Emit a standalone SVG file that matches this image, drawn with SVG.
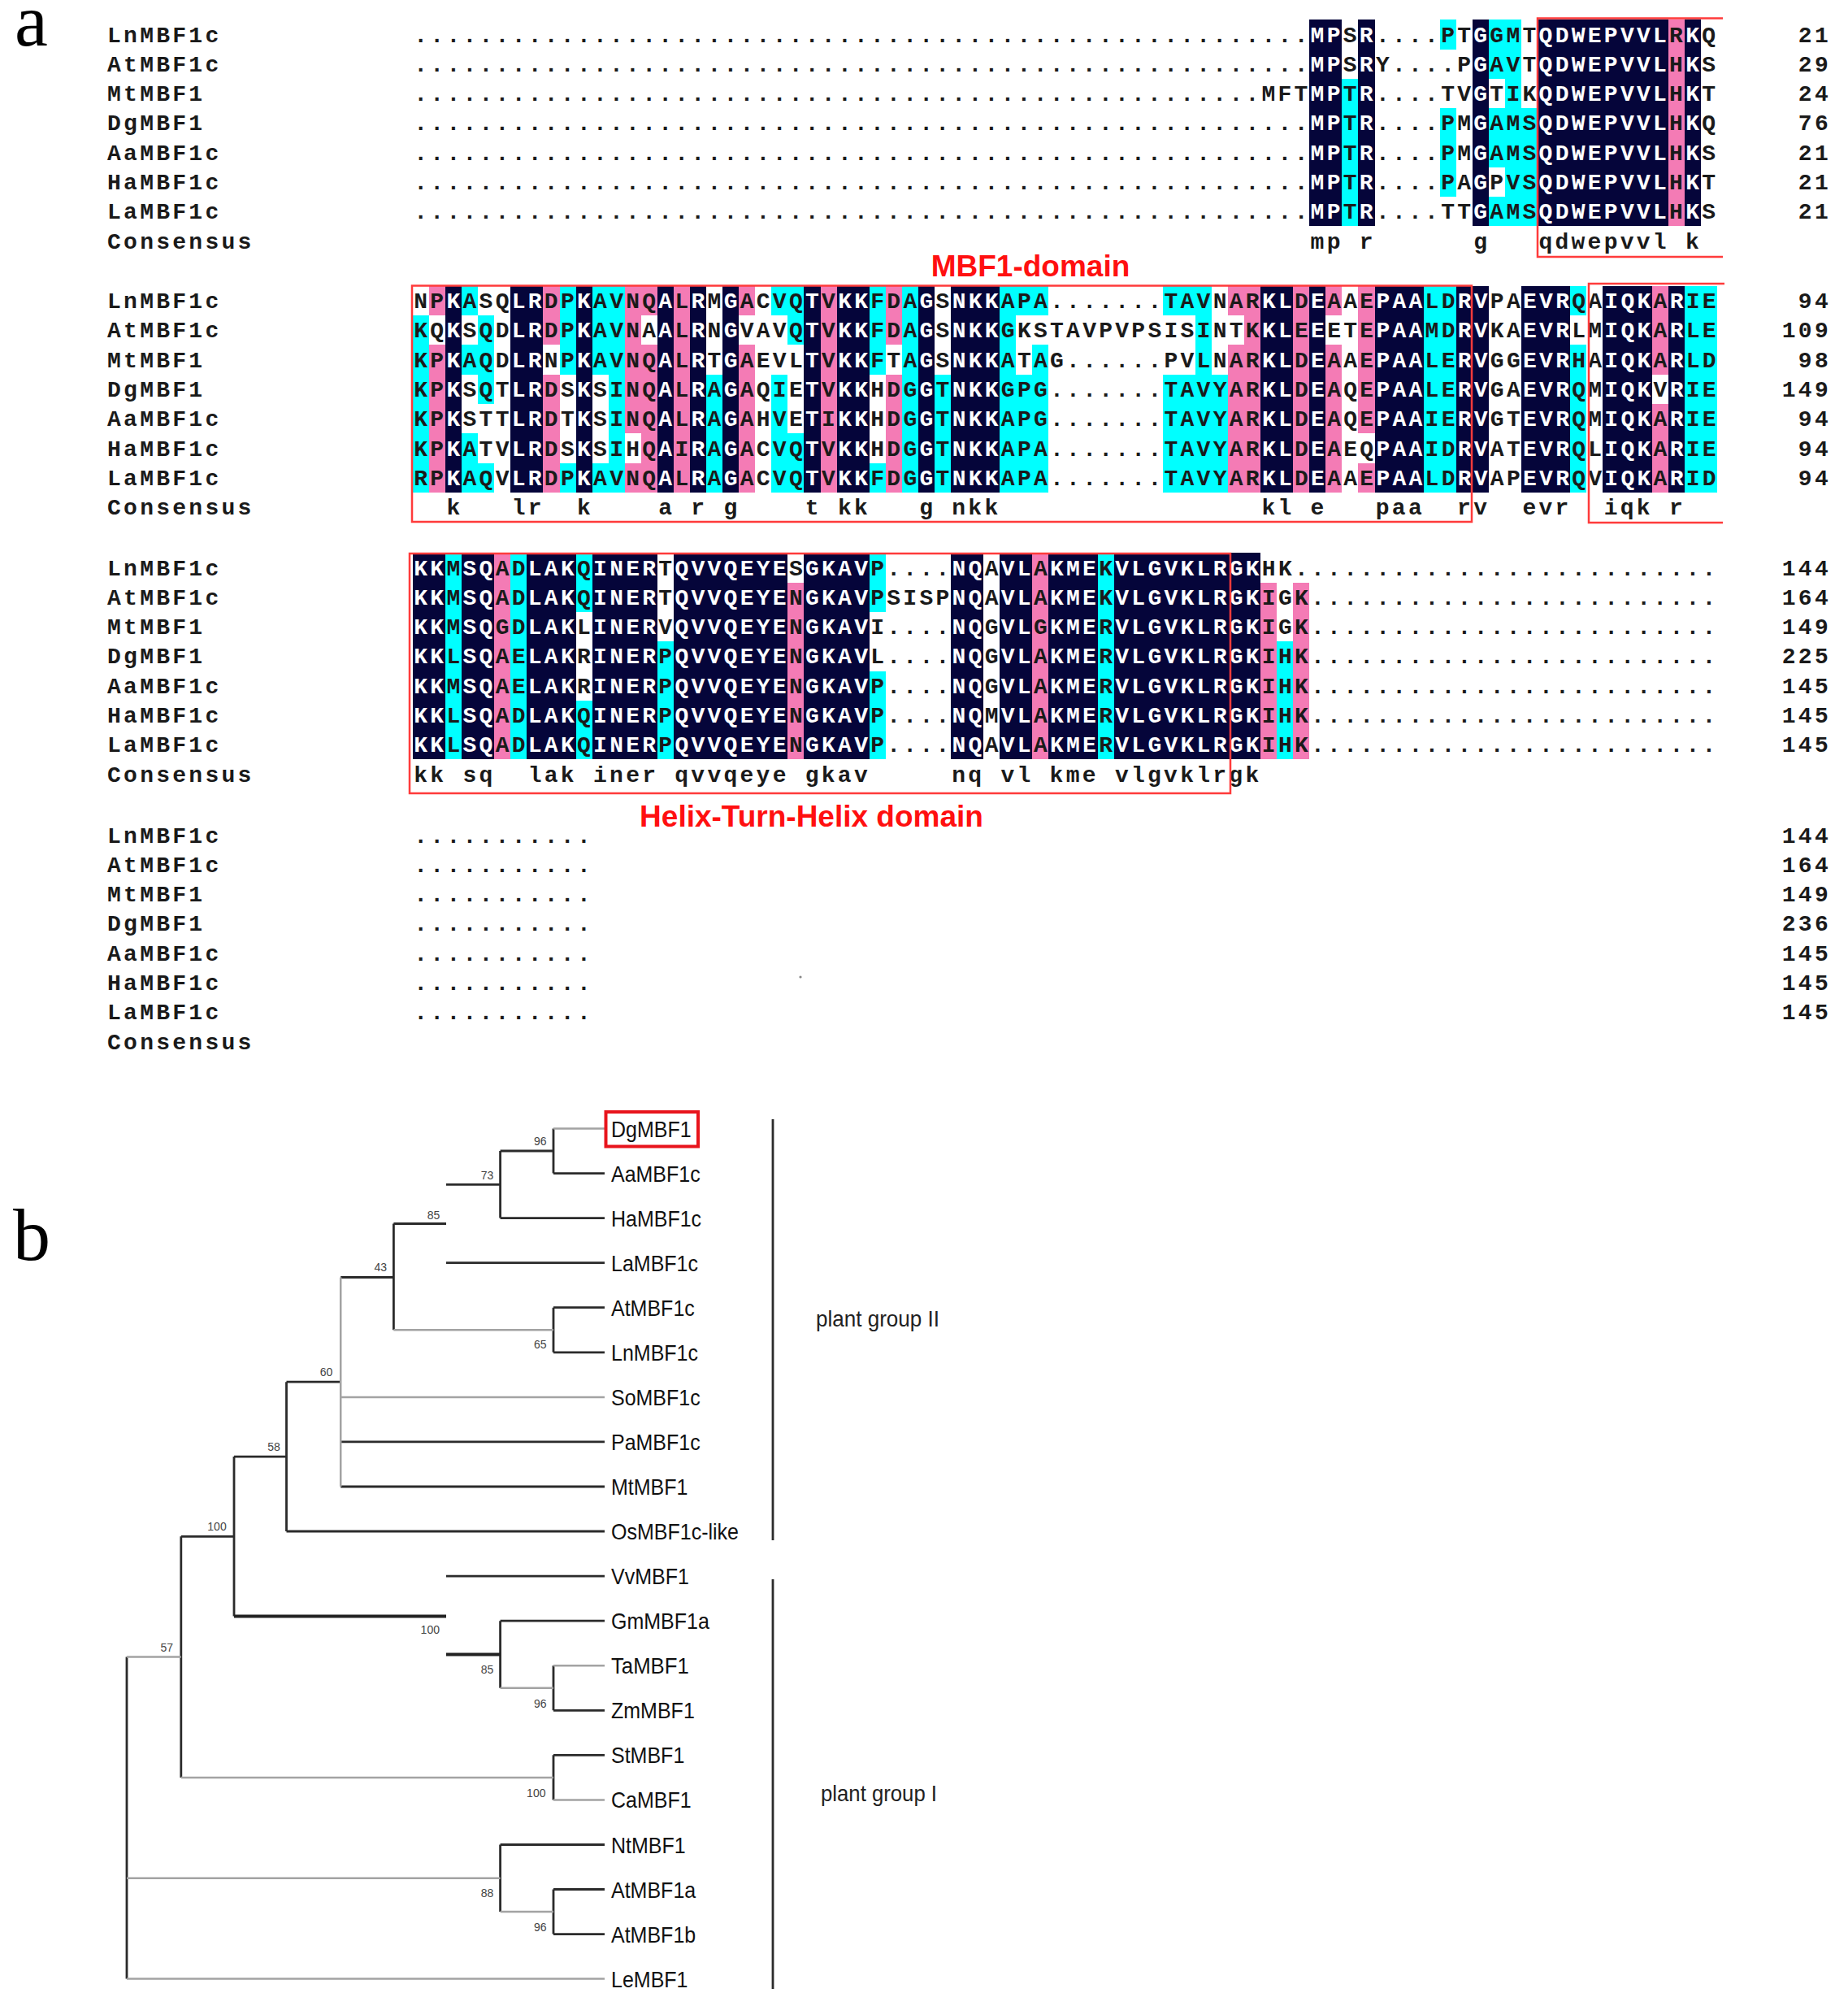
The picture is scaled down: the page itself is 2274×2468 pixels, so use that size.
<svg xmlns="http://www.w3.org/2000/svg" width="2274" height="2468" viewBox="0 0 2274 2468">
<style>
.s{font-family:"Liberation Mono","Courier New",monospace;font-size:28px;font-weight:bold;letter-spacing:3.26px;fill:#1a1a1a}
.w{fill:#ffffff}
.num{font-family:"Liberation Mono","Courier New",monospace;font-size:28px;font-weight:bold;letter-spacing:3.26px;fill:#1a1a1a;text-anchor:end}
.k{fill:#05053a}
.p{fill:#f47bb5}
.c{fill:#00ffff}
.box{fill:none;stroke:#ff3b3b;stroke-width:2.5}
.dom{font-family:"Liberation Sans",Arial,sans-serif;font-weight:bold;font-size:37px;fill:#ff1010;text-anchor:middle}
.tr{fill:none;stroke:#2b2b2b;stroke-width:2.8}
.tl{fill:none;stroke:#a3a3a3;stroke-width:2.5}
.tk{fill:none;stroke:#222222;stroke-width:4}
.leaf{font-family:"Liberation Sans",Arial,sans-serif;font-size:28px;fill:#111111}
.bs{font-family:"Liberation Sans",Arial,sans-serif;font-size:14px;fill:#444444;text-anchor:middle}
.grp{font-family:"Liberation Sans",Arial,sans-serif;font-size:28px;fill:#222222}
.pl{font-family:"Liberation Serif","Times New Roman",serif;font-size:92px;fill:#000000}
</style>
<rect x="0" y="0" width="2274" height="2468" fill="#ffffff"/>
<text class="pl" x="18" y="56">a</text>
<text class="pl" x="16" y="1550">b</text>

<!-- Block 1 -->
<g id="block1">
<g transform="translate(508,24.35) scale(20.06,36.3)" shape-rendering="crispEdges">
<path class="k" d="M55 0h2v7h-2z M58 0h1v7h-1z M65 0h1v7h-1z M69 0h8v7h-8z M78 0h1v7h-1z"/>
<path class="c" d="M57 2h1v5h-1z M63 0h1v1h-1z M63 3h1v3h-1z M66 0h1v2h-1z M66 3h1v2h-1z M66 6h1v1h-1z M67 0h1v7h-1z M68 3h1v4h-1z"/>
<path class="p" d="M77 0h1v7h-1z"/>
</g>
<text class="s" x="132" y="51.5">LnMBF1c</text>
<text class="s" x="132" y="87.8">AtMBF1c</text>
<text class="s" x="132" y="124.1">MtMBF1</text>
<text class="s" x="132" y="160.4">DgMBF1</text>
<text class="s" x="132" y="196.7">AaMBF1c</text>
<text class="s" x="132" y="233">HaMBF1c</text>
<text class="s" x="132" y="269.3">LaMBF1c</text>
<text class="s" x="132" y="305.6">Consensus</text>
<text class="s" x="509.3" y="51.5">.......................................................</text>
<text class="s" x="509.3" y="87.8">.......................................................</text>
<text class="s" x="509.3" y="124.1">....................................................</text>
<text class="s" x="509.3" y="160.4">.......................................................</text>
<text class="s" x="509.3" y="196.7">.......................................................</text>
<text class="s" x="509.3" y="233">.......................................................</text>
<text class="s" x="509.3" y="269.3">.......................................................</text>
<text class="s" x="1612.6" y="51.5"><tspan class="w">MP</tspan>S<tspan class="w">R</tspan>....PT<tspan class="w">G</tspan>GMT<tspan class="w">QDWEPVVL</tspan>R<tspan class="w">K</tspan>Q</text>
<text class="s" x="1612.6" y="87.8"><tspan class="w">MP</tspan>S<tspan class="w">R</tspan>Y....P<tspan class="w">G</tspan>AVT<tspan class="w">QDWEPVVL</tspan>H<tspan class="w">K</tspan>S</text>
<text class="s" x="1552.4" y="124.1">MFT<tspan class="w">MP</tspan>T<tspan class="w">R</tspan>....TV<tspan class="w">G</tspan>TIK<tspan class="w">QDWEPVVL</tspan>H<tspan class="w">K</tspan>T</text>
<text class="s" x="1612.6" y="160.4"><tspan class="w">MP</tspan>T<tspan class="w">R</tspan>....PM<tspan class="w">G</tspan>AMS<tspan class="w">QDWEPVVL</tspan>H<tspan class="w">K</tspan>Q</text>
<text class="s" x="1612.6" y="196.7"><tspan class="w">MP</tspan>T<tspan class="w">R</tspan>....PM<tspan class="w">G</tspan>AMS<tspan class="w">QDWEPVVL</tspan>H<tspan class="w">K</tspan>S</text>
<text class="s" x="1612.6" y="233"><tspan class="w">MP</tspan>T<tspan class="w">R</tspan>....PA<tspan class="w">G</tspan>PVS<tspan class="w">QDWEPVVL</tspan>H<tspan class="w">K</tspan>T</text>
<text class="s" x="1612.6" y="269.3"><tspan class="w">MP</tspan>T<tspan class="w">R</tspan>....TT<tspan class="w">G</tspan>AMS<tspan class="w">QDWEPVVL</tspan>H<tspan class="w">K</tspan>S</text>
<text class="s" y="305.6"><tspan x="1612.6">mp</tspan><tspan x="1672.8">r</tspan><tspan x="1813.2">g</tspan><tspan x="1893.4">qdwepvvl</tspan><tspan x="2074">k</tspan></text>
<text class="num" x="2253" y="51.5">21</text>
<text class="num" x="2253" y="87.8">29</text>
<text class="num" x="2253" y="124.1">24</text>
<text class="num" x="2253" y="160.4">76</text>
<text class="num" x="2253" y="196.7">21</text>
<text class="num" x="2253" y="233">21</text>
<text class="num" x="2253" y="269.3">21</text>
</g>

<!-- Block 2 -->
<g id="block2" transform="translate(0,327.5)">
<g transform="translate(508,24.35) scale(20.06,36.3)" shape-rendering="crispEdges">
<path class="k" d="M2 0h1v7h-1z M6 0h2v7h-2z M10 0h1v7h-1z M15 0h1v7h-1z M17 0h1v7h-1z M19 0h1v7h-1z M24 0h1v7h-1z M26 0h2v7h-2z M31 0h1v7h-1z M33 0h3v7h-3z M52 0h2v7h-2z M55 0h1v7h-1z M59 0h3v7h-3z M64 0h2v7h-2z M68 0h3v7h-3z M73 0h3v7h-3z M77 0h1v7h-1z"/>
<path class="c" d="M0 1h1v6h-1z M3 0h1v1h-1z M3 2h1v1h-1z M3 5h1v2h-1z M4 1h1v3h-1z M4 6h1v1h-1z M9 0h1v3h-1z M9 6h1v1h-1z M11 0h1v3h-1z M11 6h1v1h-1z M12 0h1v7h-1z M18 3h1v4h-1z M22 0h1v1h-1z M22 3h1v4h-1z M23 0h1v2h-1z M23 5h1v2h-1z M28 0h1v3h-1z M28 6h1v1h-1z M30 0h1v7h-1z M32 3h1v4h-1z M36 0h1v7h-1z M37 0h1v1h-1z M37 3h1v4h-1z M38 0h1v1h-1z M38 2h1v5h-1z M46 0h2v1h-2z M46 3h2v4h-2z M48 0h1v7h-1z M49 3h1v4h-1z M62 0h2v7h-2z M71 0h1v1h-1z M71 2h1v5h-1z M78 0h2v7h-2z"/>
<path class="p" d="M1 0h1v1h-1z M1 2h1v5h-1z M8 0h1v2h-1z M8 3h1v4h-1z M13 0h1v5h-1z M13 6h1v1h-1z M14 0h1v1h-1z M14 2h1v5h-1z M16 0h1v7h-1z M20 0h1v1h-1z M20 2h1v5h-1z M25 0h1v7h-1z M29 0h1v2h-1z M29 3h1v4h-1z M50 0h1v1h-1z M50 2h1v5h-1z M51 0h1v7h-1z M54 0h1v7h-1z M56 0h1v1h-1z M56 2h1v5h-1z M58 0h1v5h-1z M58 6h1v1h-1z M76 0h1v3h-1z M76 4h1v3h-1z"/>
</g>
<text class="s" x="132" y="51.5">LnMBF1c</text>
<text class="s" x="132" y="87.8">AtMBF1c</text>
<text class="s" x="132" y="124.1">MtMBF1</text>
<text class="s" x="132" y="160.4">DgMBF1</text>
<text class="s" x="132" y="196.7">AaMBF1c</text>
<text class="s" x="132" y="233">HaMBF1c</text>
<text class="s" x="132" y="269.3">LaMBF1c</text>
<text class="s" x="132" y="305.6">Consensus</text>
<text class="s" x="509.3" y="51.5">NP<tspan class="w">K</tspan>ASQ<tspan class="w">LR</tspan>DP<tspan class="w">K</tspan>AVNQ<tspan class="w">A</tspan>L<tspan class="w">R</tspan>M<tspan class="w">G</tspan>ACVQ<tspan class="w">T</tspan>V<tspan class="w">KK</tspan>FDA<tspan class="w">G</tspan>S<tspan class="w">NKK</tspan>APA.......TAVNAR<tspan class="w">KL</tspan>D<tspan class="w">E</tspan>AAE<tspan class="w">PAA</tspan>LD<tspan class="w">RV</tspan>PA<tspan class="w">EVR</tspan>QA<tspan class="w">IQK</tspan>A<tspan class="w">R</tspan>IE</text>
<text class="s" x="509.3" y="87.8">KQ<tspan class="w">K</tspan>SQD<tspan class="w">LR</tspan>DP<tspan class="w">K</tspan>AVNA<tspan class="w">A</tspan>L<tspan class="w">R</tspan>N<tspan class="w">G</tspan>VAVQ<tspan class="w">T</tspan>V<tspan class="w">KK</tspan>FDA<tspan class="w">G</tspan>S<tspan class="w">NKK</tspan>GKSTAVPVPSISINTK<tspan class="w">KL</tspan>E<tspan class="w">E</tspan>ETE<tspan class="w">PAA</tspan>MD<tspan class="w">RV</tspan>KA<tspan class="w">EVR</tspan>LM<tspan class="w">IQK</tspan>A<tspan class="w">R</tspan>LE</text>
<text class="s" x="509.3" y="124.1">KP<tspan class="w">K</tspan>AQD<tspan class="w">LR</tspan>NP<tspan class="w">K</tspan>AVNQ<tspan class="w">A</tspan>L<tspan class="w">R</tspan>T<tspan class="w">G</tspan>AEVL<tspan class="w">T</tspan>V<tspan class="w">KK</tspan>FTA<tspan class="w">G</tspan>S<tspan class="w">NKK</tspan>ATAG......PVLNAR<tspan class="w">KL</tspan>D<tspan class="w">E</tspan>AAE<tspan class="w">PAA</tspan>LE<tspan class="w">RV</tspan>GG<tspan class="w">EVR</tspan>HA<tspan class="w">IQK</tspan>A<tspan class="w">R</tspan>LD</text>
<text class="s" x="509.3" y="160.4">KP<tspan class="w">K</tspan>SQT<tspan class="w">LR</tspan>DS<tspan class="w">K</tspan>SINQ<tspan class="w">A</tspan>L<tspan class="w">R</tspan>A<tspan class="w">G</tspan>AQIE<tspan class="w">T</tspan>V<tspan class="w">KK</tspan>HDG<tspan class="w">G</tspan>T<tspan class="w">NKK</tspan>GPG.......TAVYAR<tspan class="w">KL</tspan>D<tspan class="w">E</tspan>AQE<tspan class="w">PAA</tspan>LE<tspan class="w">RV</tspan>GA<tspan class="w">EVR</tspan>QM<tspan class="w">IQK</tspan>V<tspan class="w">R</tspan>IE</text>
<text class="s" x="509.3" y="196.7">KP<tspan class="w">K</tspan>STT<tspan class="w">LR</tspan>DT<tspan class="w">K</tspan>SINQ<tspan class="w">A</tspan>L<tspan class="w">R</tspan>A<tspan class="w">G</tspan>AHVE<tspan class="w">T</tspan>I<tspan class="w">KK</tspan>HDG<tspan class="w">G</tspan>T<tspan class="w">NKK</tspan>APG.......TAVYAR<tspan class="w">KL</tspan>D<tspan class="w">E</tspan>AQE<tspan class="w">PAA</tspan>IE<tspan class="w">RV</tspan>GT<tspan class="w">EVR</tspan>QM<tspan class="w">IQK</tspan>A<tspan class="w">R</tspan>IE</text>
<text class="s" x="509.3" y="233">KP<tspan class="w">K</tspan>ATV<tspan class="w">LR</tspan>DS<tspan class="w">K</tspan>SIHQ<tspan class="w">A</tspan>I<tspan class="w">R</tspan>A<tspan class="w">G</tspan>ACVQ<tspan class="w">T</tspan>V<tspan class="w">KK</tspan>HDG<tspan class="w">G</tspan>T<tspan class="w">NKK</tspan>APA.......TAVYAR<tspan class="w">KL</tspan>D<tspan class="w">E</tspan>AEQ<tspan class="w">PAA</tspan>ID<tspan class="w">RV</tspan>AT<tspan class="w">EVR</tspan>QL<tspan class="w">IQK</tspan>A<tspan class="w">R</tspan>IE</text>
<text class="s" x="509.3" y="269.3">RP<tspan class="w">K</tspan>AQV<tspan class="w">LR</tspan>DP<tspan class="w">K</tspan>AVNQ<tspan class="w">A</tspan>L<tspan class="w">R</tspan>A<tspan class="w">G</tspan>ACVQ<tspan class="w">T</tspan>V<tspan class="w">KK</tspan>FDG<tspan class="w">G</tspan>T<tspan class="w">NKK</tspan>APA.......TAVYAR<tspan class="w">KL</tspan>D<tspan class="w">E</tspan>AAE<tspan class="w">PAA</tspan>LD<tspan class="w">RV</tspan>AP<tspan class="w">EVR</tspan>QV<tspan class="w">IQK</tspan>A<tspan class="w">R</tspan>ID</text>
<text class="s" y="305.6"><tspan x="549.4">k</tspan><tspan x="629.7">lr</tspan><tspan x="709.9">k</tspan><tspan x="810.2">a</tspan><tspan x="850.3">r</tspan><tspan x="890.4">g</tspan><tspan x="990.7">t</tspan><tspan x="1030.9">kk</tspan><tspan x="1131.2">g</tspan><tspan x="1171.3">nkk</tspan><tspan x="1552.4">kl</tspan><tspan x="1612.6">e</tspan><tspan x="1692.8">paa</tspan><tspan x="1793.1">rv</tspan><tspan x="1873.4">evr</tspan><tspan x="1973.7">iqk</tspan><tspan x="2053.9">r</tspan></text>
<text class="num" x="2253" y="51.5">94</text>
<text class="num" x="2253" y="87.8">109</text>
<text class="num" x="2253" y="124.1">98</text>
<text class="num" x="2253" y="160.4">149</text>
<text class="num" x="2253" y="196.7">94</text>
<text class="num" x="2253" y="233">94</text>
<text class="num" x="2253" y="269.3">94</text>
</g>

<!-- Block 3 -->
<g id="block3" transform="translate(0,656)">
<g transform="translate(508,24.35) scale(20.06,36.3)" shape-rendering="crispEdges">
<path class="k" d="M0 0h2v7h-2z M3 0h2v7h-2z M7 0h3v7h-3z M11 0h4v7h-4z M16 0h7v7h-7z M24 0h4v7h-4z M33 0h2v7h-2z M36 0h2v7h-2z M39 0h3v7h-3z M43 0h9v7h-9z"/>
<path class="c" d="M2 0h1v7h-1z M6 0h1v7h-1z M10 0h1v2h-1z M10 5h1v2h-1z M15 3h1v4h-1z M28 0h1v2h-1z M28 4h1v3h-1z M42 0h1v7h-1z M53 3h1v4h-1z"/>
<path class="p" d="M5 0h1v7h-1z M23 1h1v6h-1z M38 0h1v7h-1z M52 1h1v6h-1z M54 1h1v6h-1z"/>
</g>
<text class="s" x="132" y="51.5">LnMBF1c</text>
<text class="s" x="132" y="87.8">AtMBF1c</text>
<text class="s" x="132" y="124.1">MtMBF1</text>
<text class="s" x="132" y="160.4">DgMBF1</text>
<text class="s" x="132" y="196.7">AaMBF1c</text>
<text class="s" x="132" y="233">HaMBF1c</text>
<text class="s" x="132" y="269.3">LaMBF1c</text>
<text class="s" x="132" y="305.6">Consensus</text>
<text class="s" x="509.3" y="51.5"><tspan class="w">KK</tspan>M<tspan class="w">SQ</tspan>AD<tspan class="w">LAK</tspan>Q<tspan class="w">INER</tspan>T<tspan class="w">QVVQEYE</tspan>S<tspan class="w">GKAV</tspan>P....<tspan class="w">NQ</tspan>A<tspan class="w">VL</tspan>A<tspan class="w">KME</tspan>K<tspan class="w">VLGVKLRGK</tspan>HK..........................</text>
<text class="s" x="509.3" y="87.8"><tspan class="w">KK</tspan>M<tspan class="w">SQ</tspan>AD<tspan class="w">LAK</tspan>Q<tspan class="w">INER</tspan>T<tspan class="w">QVVQEYE</tspan>N<tspan class="w">GKAV</tspan>PSISP<tspan class="w">NQ</tspan>A<tspan class="w">VL</tspan>A<tspan class="w">KME</tspan>K<tspan class="w">VLGVKLRGK</tspan>IGK.........................</text>
<text class="s" x="509.3" y="124.1"><tspan class="w">KK</tspan>M<tspan class="w">SQ</tspan>GD<tspan class="w">LAK</tspan>L<tspan class="w">INER</tspan>V<tspan class="w">QVVQEYE</tspan>N<tspan class="w">GKAV</tspan>I....<tspan class="w">NQ</tspan>G<tspan class="w">VL</tspan>G<tspan class="w">KME</tspan>R<tspan class="w">VLGVKLRGK</tspan>IGK.........................</text>
<text class="s" x="509.3" y="160.4"><tspan class="w">KK</tspan>L<tspan class="w">SQ</tspan>AE<tspan class="w">LAK</tspan>R<tspan class="w">INER</tspan>P<tspan class="w">QVVQEYE</tspan>N<tspan class="w">GKAV</tspan>L....<tspan class="w">NQ</tspan>G<tspan class="w">VL</tspan>A<tspan class="w">KME</tspan>R<tspan class="w">VLGVKLRGK</tspan>IHK.........................</text>
<text class="s" x="509.3" y="196.7"><tspan class="w">KK</tspan>M<tspan class="w">SQ</tspan>AE<tspan class="w">LAK</tspan>R<tspan class="w">INER</tspan>P<tspan class="w">QVVQEYE</tspan>N<tspan class="w">GKAV</tspan>P....<tspan class="w">NQ</tspan>G<tspan class="w">VL</tspan>A<tspan class="w">KME</tspan>R<tspan class="w">VLGVKLRGK</tspan>IHK.........................</text>
<text class="s" x="509.3" y="233"><tspan class="w">KK</tspan>L<tspan class="w">SQ</tspan>AD<tspan class="w">LAK</tspan>Q<tspan class="w">INER</tspan>P<tspan class="w">QVVQEYE</tspan>N<tspan class="w">GKAV</tspan>P....<tspan class="w">NQ</tspan>M<tspan class="w">VL</tspan>A<tspan class="w">KME</tspan>R<tspan class="w">VLGVKLRGK</tspan>IHK.........................</text>
<text class="s" x="509.3" y="269.3"><tspan class="w">KK</tspan>L<tspan class="w">SQ</tspan>AD<tspan class="w">LAK</tspan>Q<tspan class="w">INER</tspan>P<tspan class="w">QVVQEYE</tspan>N<tspan class="w">GKAV</tspan>P....<tspan class="w">NQ</tspan>A<tspan class="w">VL</tspan>A<tspan class="w">KME</tspan>R<tspan class="w">VLGVKLRGK</tspan>IHK.........................</text>
<text class="s" y="305.6"><tspan x="509.3">kk</tspan><tspan x="569.5">sq</tspan><tspan x="649.7">lak</tspan><tspan x="730">iner</tspan><tspan x="830.3">qvvqeye</tspan><tspan x="990.7">gkav</tspan><tspan x="1171.3">nq</tspan><tspan x="1231.5">vl</tspan><tspan x="1291.6">kme</tspan><tspan x="1371.9">vlgvklrgk</tspan></text>
<text class="num" x="2253" y="51.5">144</text>
<text class="num" x="2253" y="87.8">164</text>
<text class="num" x="2253" y="124.1">149</text>
<text class="num" x="2253" y="160.4">225</text>
<text class="num" x="2253" y="196.7">145</text>
<text class="num" x="2253" y="233">145</text>
<text class="num" x="2253" y="269.3">145</text>
</g>

<!-- Block 4 -->
<g id="block4" transform="translate(0,985)">
<text class="s" x="132" y="51.5">LnMBF1c</text>
<text class="s" x="132" y="87.8">AtMBF1c</text>
<text class="s" x="132" y="124.1">MtMBF1</text>
<text class="s" x="132" y="160.4">DgMBF1</text>
<text class="s" x="132" y="196.7">AaMBF1c</text>
<text class="s" x="132" y="233">HaMBF1c</text>
<text class="s" x="132" y="269.3">LaMBF1c</text>
<text class="s" x="132" y="305.6">Consensus</text>
<text class="s" x="509.3" y="51.5">...........</text>
<text class="s" x="509.3" y="87.8">...........</text>
<text class="s" x="509.3" y="124.1">...........</text>
<text class="s" x="509.3" y="160.4">...........</text>
<text class="s" x="509.3" y="196.7">...........</text>
<text class="s" x="509.3" y="233">...........</text>
<text class="s" x="509.3" y="269.3">...........</text>
<text class="num" x="2253" y="51.5">144</text>
<text class="num" x="2253" y="87.8">164</text>
<text class="num" x="2253" y="124.1">149</text>
<text class="num" x="2253" y="160.4">236</text>
<text class="num" x="2253" y="196.7">145</text>
<text class="num" x="2253" y="233">145</text>
<text class="num" x="2253" y="269.3">145</text>
<circle cx="985" cy="217" r="1.6" fill="#888888"/>
</g>

<!-- Domain boxes -->
<g id="domains">
<path class="box" d="M2120 22.5H1892V316H2120"/>
<path class="box" d="M507 351.5H1811V642H507Z"/>
<path class="box" d="M2122 349H1955V643H2120"/>
<path class="box" d="M504 681H1514V976H504Z"/>
<text class="dom" x="1268" y="340">MBF1-domain</text>
<text class="dom" x="998.5" y="1017">Helix-Turn-Helix domain</text>
</g>

<!-- Tree connectors -->
<g id="tree-connectors">
<path class="tr" d="M681 1443.6H744 M681 1388.5V1443.6 M615.6 1416H681 M615.6 1416V1498.6 M615.6 1498.6H744 M549 1457.3H615.6 M484.4 1505.5H549 M549 1553.7H744 M484.4 1505.5V1636.2 M419.2 1571.5H484.4 M681 1608.7V1663.8 M681 1608.7H744 M681 1663.8H744 M352.5 1700.2H419.2 M419.2 1773.9H744 M419.2 1829H744 M352.5 1700.2V1884 M288 1792.1H352.5 M352.5 1884H744 M288 1792.1V1988.4 M222.8 1890.3H288 M549 1939.1H744 M615.6 1994.2V2076.8 M615.6 1994.2H744 M681 2049.2V2104.3 M681 2104.3H744 M222.8 1890.3V2186.9 M681 2159.3V2214.4 M681 2159.3H744 M156 2038.6V2434.6 M615.6 2269.5V2352 M615.6 2269.5H744 M681 2324.5V2379.6 M681 2324.5H744 M681 2379.6H744"/>
<path class="tk" d="M288 1988.4H549 M549 2035.5H615.6"/>
<path class="tl" d="M681 1388.5H744 M484.4 1636.2H681 M419.2 1571.5V1829 M419.2 1718.9H744 M615.6 2076.8H681 M681 2049.2H744 M156 2038.6H222.8 M222.8 2186.9H681 M681 2214.4H744 M156 2310.8H615.6 M615.6 2352H681 M156 2434.6H744"/>
<path class="tr" d="M951 1377V1895 M951 1943V2447"/>
</g>

<!-- Bootstrap values -->
<g id="bootstrap">
<text class="bs" x="664.7" y="1409.3">96</text>
<text class="bs" x="599.5" y="1450.7">73</text>
<text class="bs" x="533.5" y="1499.6">85</text>
<text class="bs" x="468.3" y="1564">43</text>
<text class="bs" x="664.7" y="1658.6">65</text>
<text class="bs" x="401.6" y="1692.5">60</text>
<text class="bs" x="337.1" y="1785.4">58</text>
<text class="bs" x="267" y="1882.9">100</text>
<text class="bs" x="529.3" y="2010">100</text>
<text class="bs" x="205.2" y="2031.8">57</text>
<text class="bs" x="599.5" y="2059">85</text>
<text class="bs" x="664.7" y="2100.7">96</text>
<text class="bs" x="659.8" y="2211">100</text>
<text class="bs" x="599.5" y="2334.3">88</text>
<text class="bs" x="664.7" y="2376">96</text>
</g>

<!-- Leaves -->
<g id="leaf-DgMBF1"><rect x="745.5" y="1368" width="113.5" height="42.5" fill="none" stroke="#e8141c" stroke-width="4"/><text class="leaf" x="752" y="1398.5" textLength="98.6" lengthAdjust="spacingAndGlyphs">DgMBF1</text></g>
<g id="leaf-AaMBF1c"><text class="leaf" x="752" y="1453.6" textLength="109.7" lengthAdjust="spacingAndGlyphs">AaMBF1c</text></g>
<g id="leaf-HaMBF1c"><text class="leaf" x="752" y="1508.6" textLength="111" lengthAdjust="spacingAndGlyphs">HaMBF1c</text></g>
<g id="leaf-LaMBF1c"><text class="leaf" x="752" y="1563.7" textLength="107" lengthAdjust="spacingAndGlyphs">LaMBF1c</text></g>
<g id="leaf-AtMBF1c"><text class="leaf" x="752" y="1618.7" textLength="102.8" lengthAdjust="spacingAndGlyphs">AtMBF1c</text></g>
<g id="leaf-LnMBF1c"><text class="leaf" x="752" y="1673.8" textLength="107" lengthAdjust="spacingAndGlyphs">LnMBF1c</text></g>
<g id="leaf-SoMBF1c"><text class="leaf" x="752" y="1728.9" textLength="109.7" lengthAdjust="spacingAndGlyphs">SoMBF1c</text></g>
<g id="leaf-PaMBF1c"><text class="leaf" x="752" y="1783.9" textLength="109.7" lengthAdjust="spacingAndGlyphs">PaMBF1c</text></g>
<g id="leaf-MtMBF1"><text class="leaf" x="752" y="1839" textLength="94.4" lengthAdjust="spacingAndGlyphs">MtMBF1</text></g>
<g id="leaf-OsMBF1c-like"><text class="leaf" x="752" y="1894" textLength="157" lengthAdjust="spacingAndGlyphs">OsMBF1c-like</text></g>
<g id="leaf-VvMBF1"><text class="leaf" x="752" y="1949.1" textLength="95.8" lengthAdjust="spacingAndGlyphs">VvMBF1</text></g>
<g id="leaf-GmMBF1a"><text class="leaf" x="752" y="2004.2" textLength="120.8" lengthAdjust="spacingAndGlyphs">GmMBF1a</text></g>
<g id="leaf-TaMBF1"><text class="leaf" x="752" y="2059.2" textLength="95.8" lengthAdjust="spacingAndGlyphs">TaMBF1</text></g>
<g id="leaf-ZmMBF1"><text class="leaf" x="752" y="2114.3" textLength="102.8" lengthAdjust="spacingAndGlyphs">ZmMBF1</text></g>
<g id="leaf-StMBF1"><text class="leaf" x="752" y="2169.3" textLength="90.3" lengthAdjust="spacingAndGlyphs">StMBF1</text></g>
<g id="leaf-CaMBF1"><text class="leaf" x="752" y="2224.4" textLength="98.6" lengthAdjust="spacingAndGlyphs">CaMBF1</text></g>
<g id="leaf-NtMBF1"><text class="leaf" x="752" y="2279.5" textLength="91.7" lengthAdjust="spacingAndGlyphs">NtMBF1</text></g>
<g id="leaf-AtMBF1a"><text class="leaf" x="752" y="2334.5" textLength="104.2" lengthAdjust="spacingAndGlyphs">AtMBF1a</text></g>
<g id="leaf-AtMBF1b"><text class="leaf" x="752" y="2389.6" textLength="104.2" lengthAdjust="spacingAndGlyphs">AtMBF1b</text></g>
<g id="leaf-LeMBF1"><text class="leaf" x="752" y="2444.6" textLength="94.5" lengthAdjust="spacingAndGlyphs">LeMBF1</text></g>

<g id="group-II"><text class="grp" x="1004" y="1632" textLength="152" lengthAdjust="spacingAndGlyphs">plant group II</text></g>
<g id="group-I"><text class="grp" x="1010" y="2216" textLength="143" lengthAdjust="spacingAndGlyphs">plant group I</text></g>
</svg>
